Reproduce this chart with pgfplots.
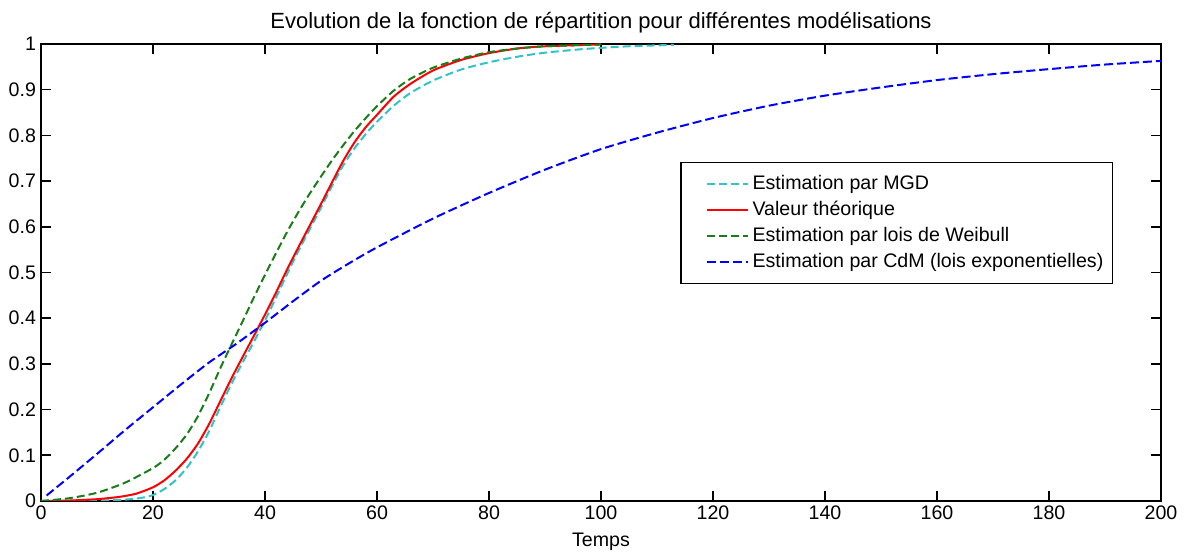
\documentclass[border=0pt]{standalone}
\usepackage{fontspec}
\setmainfont{Liberation Sans}
\usepackage{pgfplots}
\pgfplotsset{compat=1.18}
\definecolor{mgd}{RGB}{50,195,200}
\definecolor{wei}{RGB}{25,125,25}
\begin{document}
\begin{tikzpicture}[font=\fontsize{9.8}{11.5}\selectfont]
\begin{axis}[
  scale only axis,
  width=560pt, height=228.5pt,
  xmin=0, xmax=200, ymin=0, ymax=1,
  xtick={0,20,...,200},
  ytick={0,0.1,...,1},
  yticklabels={0,0.1,0.2,0.3,0.4,0.5,0.6,0.7,0.8,0.9,1},
  tick align=inside,
  major tick length=5pt,
  axis line style={line width=0.9pt},
  every tick/.style={line width=0.8pt, black},
  /pgf/number format/assume math mode=true,
  tick label style={font=\fontsize{9.8}{11.5}\selectfont},
  xticklabel style={yshift=1pt},
  yticklabel style={xshift=1pt},
  xlabel={Temps},
  xlabel style={yshift=0.5pt},
  title={Evolution de la fonction de répartition pour différentes modélisations},
  title style={font=\fontsize{11}{13}\selectfont, yshift=-4pt},
  legend style={at={(0.5705,0.742)}, anchor=north west, draw=black, line width=0.8pt,
    font=\fontsize{9.8}{11.5}\selectfont, row sep=0.3pt, inner xsep=2.5pt, inner ysep=4.5pt,
    cells={anchor=west}},
  legend image code/.code={\path[draw=none] (0cm,0cm) -- (1.09cm,0cm);\draw[#1, line width=0.8pt] (0.37cm,0cm) -- (1.09cm,0cm);},
  every axis plot/.append style={line width=1pt, smooth, tension=0.4},
]
\addplot[draw=mgd, dash pattern=on 4pt off 2pt] coordinates {
(0,0) (10,0.001) (15,0.003) (18,0.007) (20,0.013) (22,0.026) (24,0.045) (26,0.072)
(28,0.108) (30,0.152) (32,0.205) (34,0.256) (36,0.303) (38,0.348) (40,0.395)
(42,0.446) (44,0.498) (46,0.548) (48,0.595) (50,0.642) (52,0.69) (54,0.735)
(56,0.772) (58,0.803) (60,0.83) (63,0.865) (66,0.893) (70,0.92) (75,0.944)
(80,0.96) (85,0.972) (90,0.981) (97,0.989) (105,0.995) (113,0.998)};
\addlegendentry{Estimation par MGD}
\addplot[draw=red] coordinates {
(0,0) (5,0.001) (10,0.004) (14,0.009) (17,0.016) (20,0.03) (22,0.045) (24,0.066)
(26,0.092) (28,0.125) (30,0.168) (32,0.218) (34,0.268) (36,0.315) (38,0.361)
(40,0.408) (42,0.457) (44,0.508) (46,0.556) (48,0.603) (50,0.65) (52,0.698)
(54,0.745) (56,0.785) (58,0.818) (60,0.845) (63,0.885) (66,0.913) (70,0.942)
(75,0.965) (80,0.98) (85,0.99) (90,0.995) (100,0.999)};
\addlegendentry{Valeur théorique}
\addplot[draw=wei, dash pattern=on 4pt off 2pt] coordinates {
(0,0) (5,0.006) (10,0.018) (15,0.04) (20,0.072) (22,0.09) (24,0.115) (26,0.145)
(28,0.185) (30,0.235) (32,0.29) (34,0.342) (36,0.393) (38,0.445) (40,0.495)
(42,0.543) (44,0.59) (46,0.633) (48,0.673) (50,0.71) (52,0.746) (54,0.779)
(56,0.81) (58,0.838) (60,0.864) (63,0.898) (66,0.924) (70,0.948) (75,0.968)
(80,0.982) (85,0.99) (90,0.995) (100,0.999)};
\addlegendentry{Estimation par lois de Weibull}
\addplot[draw=blue, dash pattern=on 4.5pt off 2pt] coordinates {
(1,0.012) (5,0.052) (10,0.103) (15,0.155) (20,0.205) (25,0.255) (30,0.303)
(35,0.345) (40,0.39) (45,0.437) (50,0.482) (55,0.52) (60,0.555) (70,0.618)
(80,0.674) (90,0.725) (100,0.77) (110,0.806) (120,0.838) (130,0.865)
(140,0.887) (150,0.905) (160,0.921) (170,0.934) (180,0.945) (190,0.955) (200,0.963)};
\addlegendentry{Estimation par CdM (lois exponentielles)}
\end{axis}
\path (current axis.south west) ++(-20.5pt,-24.5pt) coordinate (bl);
\path (current axis.north east) ++(13pt,22pt) coordinate (tr);
\path (bl) rectangle (tr);
\end{tikzpicture}
\end{document}
